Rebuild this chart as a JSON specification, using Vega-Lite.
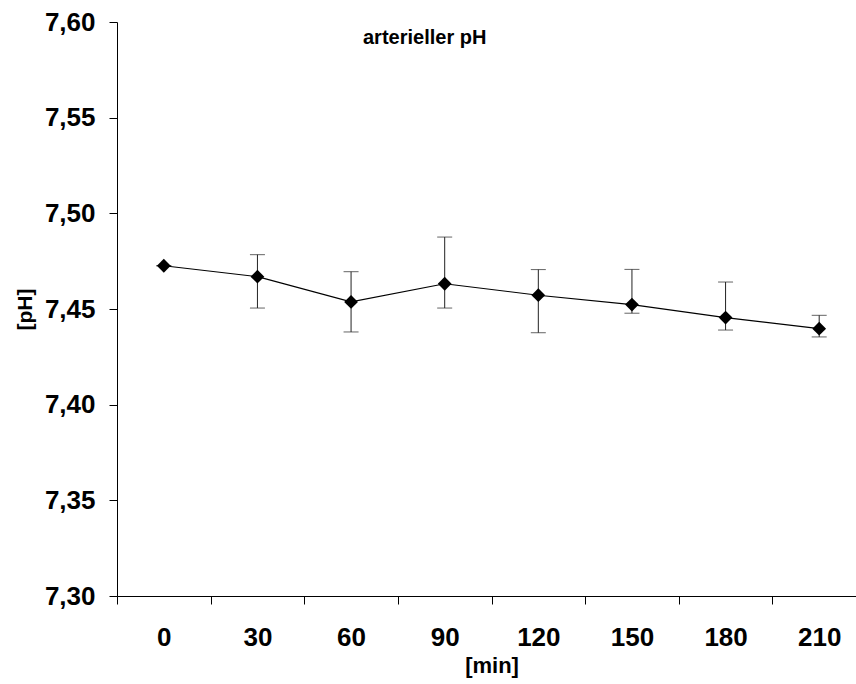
{
  "$schema": "https://vega.github.io/schema/vega-lite/v6.json",
  "width": 749,
  "height": 574,
  "autosize": {"type": "none"},
  "padding": {"left": 117, "top": 22, "right": 0, "bottom": 88},
  "background": "white",
  "title": {
    "text": "arterieller pH",
    "anchor": "start",
    "frame": "group",
    "font": "Liberation Sans",
    "fontSize": 20,
    "fontWeight": "bold",
    "color": "#000000",
    "baseline": "alphabetic",
    "offset": 0,
    "dx": 246,
    "dy": 55
  },
  "data": {
    "values": [
      {"min": "0", "ph": 7.4726, "lo": 7.4726, "hi": 7.4726},
      {"min": "30", "ph": 7.4669, "lo": 7.4505, "hi": 7.4784},
      {"min": "60", "ph": 7.4537, "lo": 7.4380, "hi": 7.4695},
      {"min": "90", "ph": 7.4632, "lo": 7.4505, "hi": 7.4876},
      {"min": "120", "ph": 7.4572, "lo": 7.4376, "hi": 7.4706},
      {"min": "150", "ph": 7.4523, "lo": 7.4478, "hi": 7.4707},
      {"min": "180", "ph": 7.4455, "lo": 7.4390, "hi": 7.4641},
      {"min": "210", "ph": 7.4397, "lo": 7.4354, "hi": 7.4467}
    ]
  },
  "encoding": {
    "x": {
      "field": "min",
      "type": "ordinal",
      "sort": ["0", "30", "60", "90", "120", "150", "180", "210"],
      "scale": {"type": "band", "paddingInner": 0, "paddingOuter": 0},
      "axis": {
        "title": "[min]",
        "labelAngle": 0,
        "tickBand": "extent",
        "tickSize": 8,
        "tickColor": "#000000",
        "domainColor": "#000000",
        "labelPadding": 20,
        "labelFont": "Liberation Sans",
        "labelFontSize": 26,
        "labelFontWeight": "bold",
        "labelColor": "#000000",
        "titleFont": "Liberation Sans",
        "titleFontSize": 22,
        "titleFontWeight": "bold",
        "titleColor": "#000000",
        "titlePadding": 5,
        "grid": false
      }
    }
  },
  "layer": [
    {
      "mark": {"type": "rule", "color": "#222222", "strokeWidth": 1},
      "encoding": {
        "y": {"field": "lo", "type": "quantitative"},
        "y2": {"field": "hi"}
      }
    },
    {
      "mark": {"type": "tick", "color": "#222222", "size": 15, "thickness": 1},
      "encoding": {"y": {"field": "lo", "type": "quantitative"}}
    },
    {
      "mark": {"type": "tick", "color": "#222222", "size": 15, "thickness": 1},
      "encoding": {"y": {"field": "hi", "type": "quantitative"}}
    },
    {
      "mark": {"type": "line", "color": "#000000", "strokeWidth": 1.2},
      "encoding": {
        "y": {
          "field": "ph",
          "type": "quantitative",
          "scale": {"domain": [7.3, 7.6], "zero": false, "nice": false},
          "axis": {
            "title": "[pH]",
            "values": [7.3, 7.35, 7.4, 7.45, 7.5, 7.55, 7.6],
            "format": ".2f",
            "tickSize": 8,
            "tickColor": "#000000",
            "domainColor": "#000000",
            "labelPadding": 14,
            "labelFont": "Liberation Sans",
            "labelFontSize": 26,
            "labelFontWeight": "bold",
            "labelColor": "#000000",
            "titleFont": "Liberation Sans",
            "titleFontSize": 21,
            "titleFontWeight": "bold",
            "titleColor": "#000000",
            "titlePadding": 9,
            "grid": false
          }
        }
      }
    },
    {
      "mark": {"type": "point", "shape": "diamond", "filled": true, "color": "#000000", "size": 190, "opacity": 1},
      "encoding": {"y": {"field": "ph", "type": "quantitative"}}
    }
  ],
  "config": {
    "view": {"stroke": null},
    "locale": {
      "number": {"decimal": ",", "thousands": ".", "grouping": [3], "currency": ["", " €"]}
    }
  }
}
